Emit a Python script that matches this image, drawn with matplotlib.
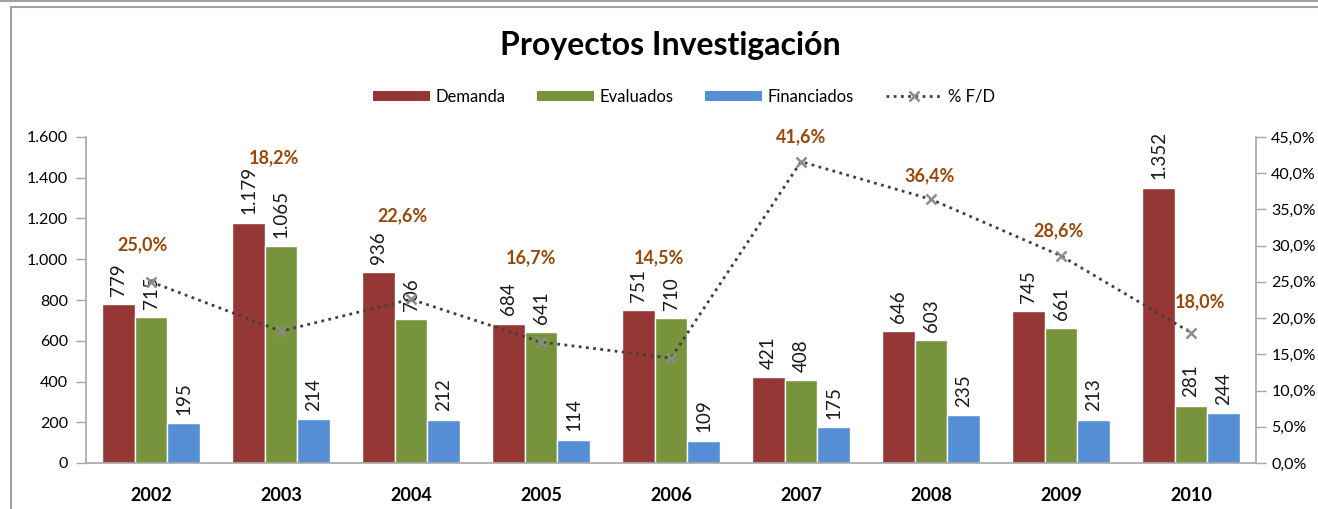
import matplotlib.pyplot as plt
from matplotlib.lines import Line2D
from matplotlib.patches import Patch
from matplotlib.ticker import FuncFormatter, MultipleLocator
import numpy as np

plt.rcParams['font.family'] = ['Lato', 'DejaVu Sans']

# --- datos ---
years = ['2002', '2003', '2004', '2005', '2006', '2007', '2008', '2009', '2010']
demanda = [779, 1179, 936, 684, 751, 421, 646, 745, 1352]
evaluados = [715, 1065, 706, 641, 710, 408, 603, 661, 281]
financiados = [195, 214, 212, 114, 109, 175, 235, 213, 244]
pct_fd = [25.0, 18.2, 22.6, 16.7, 14.5, 41.6, 36.4, 28.6, 18.0]

# desplazamiento (px) de las etiquetas de % respecto al punto
pct_dx = [-8, -7, -8, -10, -12, 0, -1, -2, 9]
pct_dy = [37, 173, 84, 84, 100, 25, 24, 25, 31]

c_dem, c_eva, c_fin = '#953735', '#77933C', '#558ED5'
c_pct = '#984807'
c_axis = '#A6A6A6'


def miles(v):
    return f"{int(v):,}".replace(",", ".")


def pct(v):
    return f"{v:.1f}%".replace(".", ",")


fig = plt.figure(figsize=(13.18, 5.09), dpi=100)
ax = fig.add_axes([86 / 1318, 1 - 463 / 509, 1170 / 1318, 326 / 509])

x = np.arange(len(years))
w = 0.25
series = [(demanda, c_dem, 'Demanda'), (evaluados, c_eva, 'Evaluados'), (financiados, c_fin, 'Financiados')]
for i, (vals, col, name) in enumerate(series):
    bars = ax.bar(x + (i - 1) * w, vals, w, color=col, edgecolor='white', linewidth=1, zorder=2)
    ax.bar_label(bars, labels=[miles(v) for v in vals], rotation=90, padding=6, fontsize=13.5, color='#1a1a1a')

ax.set_xlim(-0.5, len(years) - 0.5)
ax.set_ylim(0, 1600)
ax.yaxis.set_major_locator(MultipleLocator(200))
ax.yaxis.set_major_formatter(FuncFormatter(lambda v, _: miles(v)))
ax.set_xticks(x)
ax.set_xticklabels(years, fontsize=13, fontweight='bold')
ax.tick_params(axis='x', length=0, pad=17)
ax.tick_params(axis='y', length=7, width=1, color=c_axis, labelsize=11.5, pad=6, direction='out')
for s in ['top', 'right']:
    ax.spines[s].set_visible(False)
for s in ['left', 'bottom']:
    ax.spines[s].set_color(c_axis)
    ax.spines[s].set_linewidth(1.2)

ax2 = ax.twinx()
ax2.plot(x, pct_fd, color='#404040', linestyle=(0, (1, 1.6)), linewidth=2,
         marker='x', markersize=7, markeredgewidth=1.8, markeredgecolor='#8c8c8c', zorder=3)
ax2.set_ylim(0, 45)
ax2.yaxis.set_major_locator(MultipleLocator(5))
ax2.yaxis.set_major_formatter(FuncFormatter(lambda v, _: pct(v)))
ax2.tick_params(axis='y', length=7, width=1, color=c_axis, labelsize=11.5, pad=4, direction='out')
for s in ['top', 'left', 'bottom']:
    ax2.spines[s].set_visible(False)
ax2.spines['right'].set_color(c_axis)
ax2.spines['right'].set_linewidth(1.2)

for xi, p, dx, dy in zip(x, pct_fd, pct_dx, pct_dy):
    ax2.annotate(pct(p), (xi, p), xytext=(dx, dy), textcoords='offset pixels',
                 ha='center', va='center', fontsize=13, fontweight='bold', color=c_pct)

fig.text(670 / 1318, 1 - 45 / 509, 'Proyectos Investigación', ha='center', va='center',
         fontsize=23, fontweight='bold')

handles = [Patch(facecolor=c_dem), Patch(facecolor=c_eva), Patch(facecolor=c_fin),
           Line2D([], [], color='#404040', linestyle=(0, (1, 1.6)), linewidth=2,
                  marker='x', markersize=7, markeredgewidth=1.8, markeredgecolor='#8c8c8c')]
fig.legend(handles, ['Demanda', 'Evaluados', 'Financiados', '% F/D'], loc='center',
           bbox_to_anchor=(684 / 1318, 1 - 97 / 509), ncol=4, frameon=False, fontsize=12,
           handlelength=3.4, handleheight=0.6, handletextpad=0.35, columnspacing=1.9)

# marco del gráfico
fig.add_artist(Line2D([0, 1], [1 - 1 / 509, 1 - 1 / 509], color='#A0A0A0', linewidth=1.5))
fig.add_artist(Line2D([11 / 1318, 1], [1 - 7 / 509, 1 - 7 / 509], color='#A0A0A0', linewidth=1.5))
fig.add_artist(Line2D([11 / 1318, 11 / 1318], [0, 1 - 7 / 509], color='#A0A0A0', linewidth=1.5))

fig.savefig('out.png', dpi=100)
